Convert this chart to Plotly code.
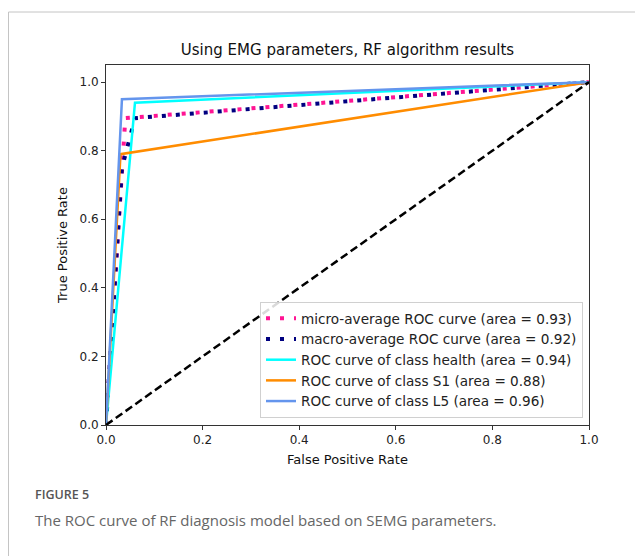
import plotly.graph_objects as go

# ---- data ----
fpr_micro = [0.0, 0.04, 1.0]
tpr_micro = [0.0, 0.895, 1.0]
fpr_macro = [0.0, 0.03, 0.033, 0.06, 1.0]
tpr_macro = [0.0, 0.71, 0.75, 0.895, 1.0]
fpr_health = [0.0, 0.06, 1.0]
tpr_health = [0.0, 0.94, 1.0]
fpr_s1 = [0.0, 0.03, 1.0]
tpr_s1 = [0.0, 0.79, 1.0]
fpr_l5 = [0.0, 0.033, 1.0]
tpr_l5 = [0.0, 0.95, 1.0]
chance_x = [0.0, 1.0]
chance_y = [0.0, 1.0]

names = [
    "micro-average ROC curve (area = 0.93)",
    "macro-average ROC curve (area = 0.92)",
    "ROC curve of class health (area = 0.94)",
    "ROC curve of class S1 (area = 0.88)",
    "ROC curve of class L5 (area = 0.96)",
]
x_ticks = [0.0, 0.2, 0.4, 0.6, 0.8, 1.0]
y_ticks = [0.0, 0.2, 0.4, 0.6, 0.8, 1.0]
tick_text = ["0.0", "0.2", "0.4", "0.6", "0.8", "1.0"]

FONT = "DejaVu Sans"

fig = go.Figure()
fig.add_trace(go.Scatter(x=fpr_micro, y=tpr_micro, mode="lines", name=names[0],
                         line=dict(color="deeppink", width=4, dash="4px,10px")))
fig.add_trace(go.Scatter(x=fpr_macro, y=tpr_macro, mode="lines", name=names[1],
                         line=dict(color="navy", width=4, dash="4px,10px")))
fig.add_trace(go.Scatter(x=fpr_health, y=tpr_health, mode="lines", name=names[2],
                         line=dict(color="aqua", width=2.5)))
fig.add_trace(go.Scatter(x=fpr_s1, y=tpr_s1, mode="lines", name=names[3],
                         line=dict(color="darkorange", width=2.5)))
fig.add_trace(go.Scatter(x=fpr_l5, y=tpr_l5, mode="lines", name=names[4],
                         line=dict(color="cornflowerblue", width=2.5)))
fig.add_trace(go.Scatter(x=chance_x, y=chance_y, mode="lines", showlegend=False,
                         line=dict(color="black", width=2.5, dash="8px,4px")))

# page body has an 8px margin: figure is placed at (8, 8)
OFF = 8
W, H = 643 - OFF, 556 - OFF
L, T = 106 - OFF, 65 - OFF
pw, ph = 483, 360
R = W - L - pw
B = H - T - ph

def px_x(px):
    return (px - OFF - L) / pw

def px_y(py):
    return (T + ph - (py - OFF)) / ph

axis_common = dict(
    showline=True, linecolor="#333", linewidth=1, mirror=True,
    ticks="outside", ticklen=4, tickcolor="#333", tickwidth=1,
    showgrid=False, zeroline=False,
    tickfont=dict(family=FONT, size=12, color="#222"),
)

fig.update_layout(
    width=W, height=H,
    margin=dict(l=L, r=R, t=T, b=B),
    paper_bgcolor="white", plot_bgcolor="white",
    title=dict(text="Using EMG parameters, RF algorithm results",
               font=dict(family=FONT, size=15, color="#111"),
               x=0.5, xref="paper", xanchor="center",
               y=1 - (50 - OFF) / H, yref="container", yanchor="middle"),
    xaxis=dict(range=[0, 1.0], tickvals=x_ticks, ticktext=tick_text,
               title=dict(text="False Positive Rate", font=dict(family=FONT, size=13, color="#111"),
                          standoff=8),
               **axis_common),
    yaxis=dict(range=[0, 1.05], tickvals=y_ticks, ticktext=tick_text,
               title=dict(text="True Positive Rate", font=dict(family=FONT, size=13, color="#111"),
                          standoff=8),
               **axis_common),
    legend=dict(x=px_x(583), y=px_y(418), xanchor="right", yanchor="bottom",
                bgcolor="rgba(255,255,255,0.85)", bordercolor="#d0d0d0", borderwidth=1,
                font=dict(family=FONT, size=13.6, color="#222"),
                itemwidth=30),
    showlegend=True,
)

# card border (top and left edges visible)
fig.add_shape(type="line", xref="paper", yref="paper",
              x0=px_x(8.5), y0=px_y(12), x1=px_x(700), y1=px_y(12),
              line=dict(color="#c4c4c4", width=1))
fig.add_shape(type="line", xref="paper", yref="paper",
              x0=px_x(8.5), y0=px_y(12), x1=px_x(8.5), y1=px_y(600),
              line=dict(color="#c4c4c4", width=1))

# caption
fig.add_annotation(text="FIGURE 5", xref="paper", yref="paper",
                   x=px_x(33), y=px_y(494), xanchor="left", yanchor="middle",
                   showarrow=False,
                   font=dict(family="Open Sans", size=12.5, color="#555", weight=600))
fig.add_annotation(text="The ROC curve of RF diagnosis model based on SEMG parameters.",
                   xref="paper", yref="paper",
                   x=px_x(33), y=px_y(520), xanchor="left", yanchor="middle",
                   showarrow=False, font=dict(family="Open Sans", size=15, color="#666"))

fig.write_html("out.html")
